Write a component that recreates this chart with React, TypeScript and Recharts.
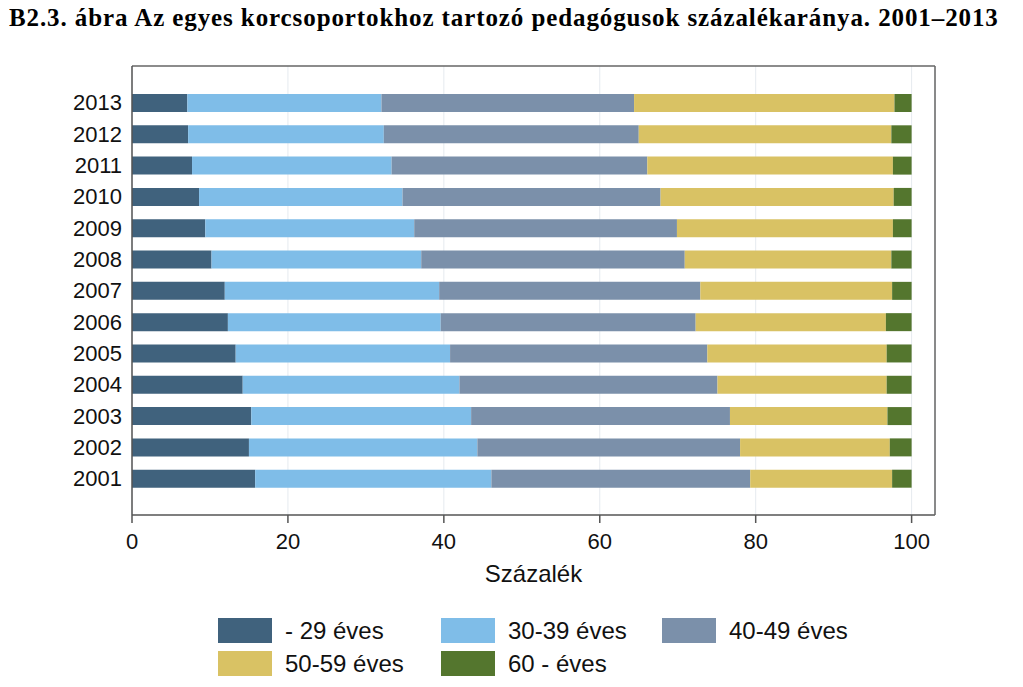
import React from "react";
import {
  BarChart,
  Bar,
  XAxis,
  YAxis,
  CartesianGrid,
} from "recharts";

const years = ["2001", "2002", "2003", "2004", "2005", "2006", "2007", "2008", "2009", "2010", "2011", "2012", "2013"];

const under29 = [15.8, 15.0, 15.3, 14.2, 13.3, 12.3, 11.9, 10.2, 9.4, 8.6, 7.7, 7.2, 7.1];
const age30to39 = [30.3, 29.3, 28.2, 27.8, 27.5, 27.3, 27.5, 26.9, 26.8, 26.1, 25.6, 25.1, 24.9];
const age40to49 = [33.2, 33.7, 33.2, 33.1, 33.0, 32.7, 33.5, 33.8, 33.7, 33.1, 32.8, 32.7, 32.4];
const age50to59 = [18.2, 19.2, 20.2, 21.7, 23.0, 24.4, 24.6, 26.5, 27.7, 29.9, 31.5, 32.4, 33.4];
const over60 = [2.5, 2.8, 3.1, 3.2, 3.2, 3.3, 2.5, 2.6, 2.4, 2.3, 2.4, 2.6, 2.2];

const seriesNames = ["- 29 éves", "30-39 éves", "40-49 éves", "50-59 éves", "60 - éves"];
const seriesKeys = ["a", "b", "c", "d", "e"];
const seriesColors = ["#40627d", "#7fbde8", "#7b90aa", "#d9c264", "#54762e"];

const xTicks = [0, 20, 40, 60, 80, 100];

const data = years.map((year, i) => ({
  year,
  a: under29[i],
  b: age30to39[i],
  c: age40to49[i],
  d: age50to59[i],
  e: over60[i],
}));

const sans = "'Liberation Sans', Arial, sans-serif";

function LegendBox() {
  // 3 entries per row
  const colX = [0, 223, 444];
  return (
    <div style={{ position: "absolute", top: 610, left: 210, width: 600, height: 60 }}>
      {seriesNames.map((name, i) => (
        <div
          key={name}
          style={{
            position: "absolute",
            left: colX[i % 3],
            top: Math.floor(i / 3) * 33,
            display: "flex",
            alignItems: "center",
            height: 25,
          }}
        >
          <div style={{ width: 54, height: 25, background: seriesColors[i] }} />
          <span
            style={{
              marginLeft: 13,
              fontFamily: sans,
              fontSize: 24,
              color: "#111",
              whiteSpace: "nowrap",
            }}
          >
            {name}
          </span>
        </div>
      ))}
    </div>
  );
}

export default function App() {
  return (
    <div style={{ position: "relative", width: 1007, height: 671 }}>
      <div
        style={{
          position: "absolute",
          top: -3,
          left: 1,
          fontFamily: "'Liberation Serif', 'Times New Roman', serif",
          fontWeight: "bold",
          fontSize: 25,
          lineHeight: "25px",
          letterSpacing: 0.9,
          color: "#000",
          whiteSpace: "nowrap",
        }}
      >
        B2.3. ábra Az egyes korcsoportokhoz tartozó pedagógusok százalékaránya. 2001–2013
      </div>
      <div style={{ position: "absolute", top: 0, left: 0 }}>
        <BarChart
          width={1007}
          height={600}
          data={data}
          layout="vertical"
          margin={{ top: 57, right: 79, bottom: 23, left: 0 }}
        >
          <CartesianGrid horizontal={false} stroke="#e6eaef" />
          <XAxis
            type="number"
            domain={[0, 103]}
            ticks={xTicks}
            height={70}
            tickSize={8}
            tickMargin={10}
            stroke="#555"
            strokeWidth={1.5}
            tick={{ fontSize: 22, fontFamily: sans, fill: "#111" }}
            label={{
              value: "Százalék",
              position: "insideBottom",
              offset: 3,
              style: { fontSize: 24, fontFamily: sans, fill: "#111" },
            }}
          />
          {/* top and right edges of the plot frame */}
          <XAxis
            xAxisId="top"
            orientation="top"
            type="number"
            domain={[0, 103]}
            height={1}
            tick={false}
            tickLine={false}
            stroke="#666"
            strokeWidth={1.5}
          />
          <YAxis
            type="category"
            dataKey="year"
            reversed
            width={124}
            tickLine={false}
            tickMargin={4}
            padding={{ top: 21, bottom: 21 }}
            stroke="#555"
            strokeWidth={1.5}
            tick={{ fontSize: 22, fontFamily: sans, fill: "#111" }}
          />
          <YAxis
            yAxisId="right"
            orientation="right"
            type="category"
            dataKey="year"
            width={1}
            tick={false}
            tickLine={false}
            stroke="#666"
            strokeWidth={1.5}
          />
          {seriesKeys.map((k, i) => (
            <Bar
              key={k}
              dataKey={k}
              name={seriesNames[i]}
              stackId="s"
              fill={seriesColors[i]}
              barSize={18}
              isAnimationActive={false}
            />
          ))}
        </BarChart>
      </div>
      <LegendBox />
    </div>
  );
}
